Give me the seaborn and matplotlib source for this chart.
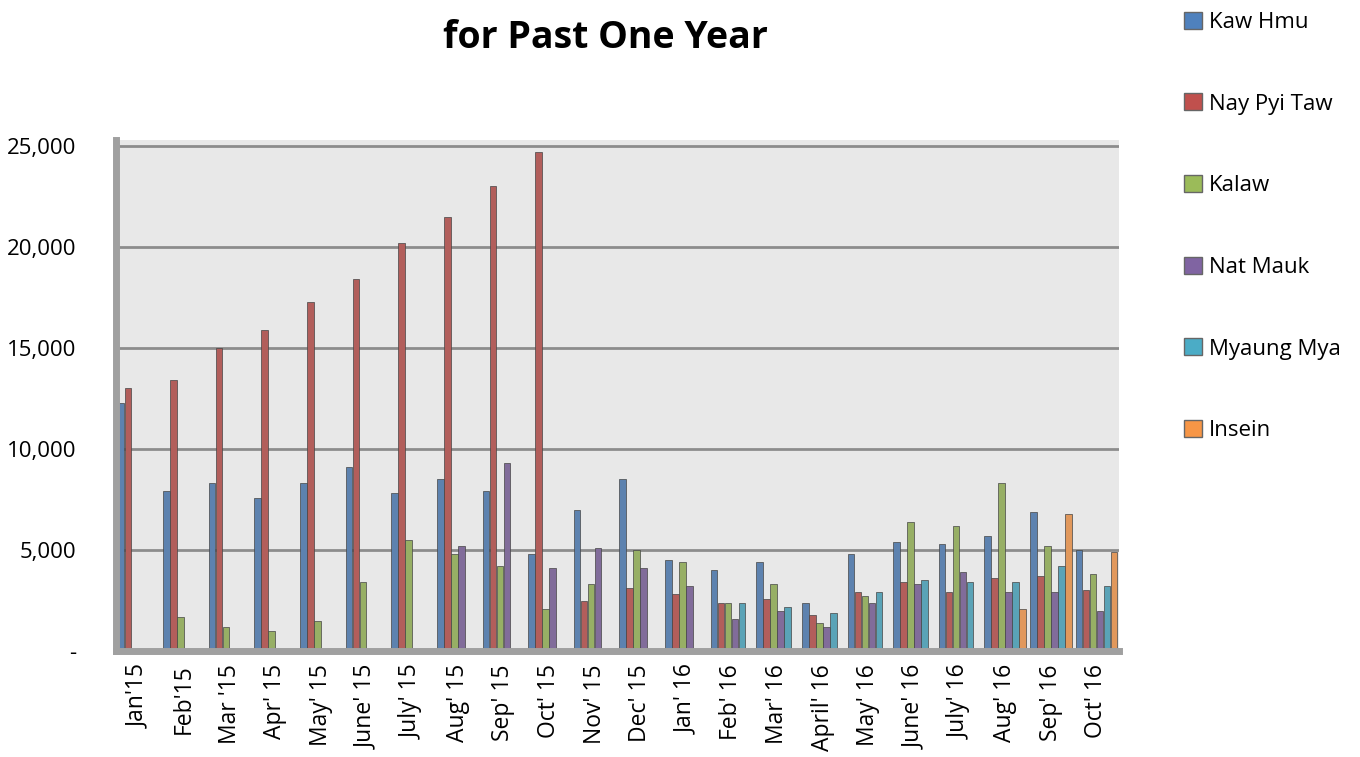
import matplotlib
matplotlib.use('Agg')
import matplotlib.pyplot as plt
import matplotlib.ticker as mticker
from matplotlib.patches import Patch
import numpy as np
import pandas as pd
import seaborn as sns

months = ["Jan'15", "Feb'15", "Mar '15", "Apr' 15", "May' 15", "June' 15", "July' 15",
          "Aug' 15", "Sep' 15", "Oct' 15", "Nov' 15", "Dec' 15", "Jan' 16", "Feb' 16",
          "Mar' 16", "April' 16", "May' 16", "June' 16", "July' 16", "Aug' 16",
          "Sep' 16", "Oct' 16"]
nan = np.nan
kaw_hmu = [12300, 7900, 8300, 7600, 8300, 9100, 7800, 8500, 7900, 4800, 7000, 8500,
           4500, 4000, 4400, 2400, 4800, 5400, 5300, 5700, 6900, 5000]
nay_pyi_taw = [13000, 13400, 15000, 15900, 17300, 18400, 20200, 21500, 23000, 24700,
               2500, 3100, 2800, 2400, 2600, 1800, 2900, 3400, 2900, 3600, 3700, 3000]
kalaw = [nan, 1700, 1200, 1000, 1500, 3400, 5500, 4800, 4200, 2100, 3300, 5000,
         4400, 2400, 3300, 1400, 2700, 6400, 6200, 8300, 5200, 3800]
nat_mauk = [nan, nan, nan, nan, nan, nan, nan, 5200, 9300, 4100, 5100, 4100,
            3200, 1600, 2000, 1200, 2400, 3300, 3900, 2900, 2900, 2000]
myaung_mya = [nan] * 13 + [2400, 2200, 1900, 2900, 3500, 3400, 3400, 4200, 3200]
insein = [nan] * 19 + [2100, 6800, 4900]

series = ["Kaw Hmu", "Nay Pyi Taw", "Kalaw", "Nat Mauk", "Myaung Mya", "Insein"]
colors = ["#4F81BD", "#C0504D", "#9BBB59", "#8064A2", "#4BACC6", "#F79646"]

rows = []
for name, vals in zip(series, [kaw_hmu, nay_pyi_taw, kalaw, nat_mauk, myaung_mya, insein]):
    for m, v in zip(months, vals):
        rows.append({"month": m, "series": name, "value": v})
df = pd.DataFrame(rows)

sns.set_style('whitegrid')
plt.rcParams['font.family'] = ['Open Sans', 'DejaVu Sans']
plt.rcParams['text.color'] = 'black'
plt.rcParams['xtick.color'] = 'black'
plt.rcParams['ytick.color'] = 'black'

fig = plt.figure(figsize=(13.6, 7.57), dpi=100)
ax = fig.add_axes([0.085, 0.14, 0.738, 0.675])
ax.set_facecolor('#e8e8e8')

sns.barplot(data=df, x='month', y='value', hue='series', order=months,
            hue_order=series, palette=colors, width=0.92, gap=0.05,
            edgecolor='#444444', linewidth=0.5, errorbar=None, ax=ax)

ax.set_ylim(0, 25300)
ax.yaxis.set_major_locator(mticker.MultipleLocator(5000))
ax.yaxis.set_major_formatter(mticker.FuncFormatter(
    lambda v, p: '-' if v == 0 else f'{int(v):,}'))
ax.grid(axis='y', color='#8c8c8c', linewidth=2)
ax.grid(axis='x', visible=False)
ax.set_axisbelow(True)
ax.set_xlabel('')
ax.set_ylabel('')
ax.tick_params(axis='x', labelrotation=90, labelsize=16.5, length=6, color='#888888')
ax.tick_params(axis='y', labelsize=16, pad=28, length=0)
for s in ['top', 'right']:
    ax.spines[s].set_visible(False)
ax.spines['left'].set_color('#a0a0a0')
ax.spines['left'].set_linewidth(5)
ax.spines['bottom'].set_color('#a0a0a0')
ax.spines['bottom'].set_linewidth(5)

ax.get_legend().remove()
handles = [Patch(facecolor=c, edgecolor='#666666', label=s) for s, c in zip(series, colors)]
fig.legend(handles=handles, loc='upper left', bbox_to_anchor=(0.856, 1.011),
           frameon=False, fontsize=16, labelspacing=2.72, handlelength=0.8,
           handleheight=0.8, handletextpad=0.3)

fig.text(0.445, 0.95, 'for Past One Year', ha='center', va='center',
         fontsize=27, fontweight='bold')

fig.savefig('out.png', dpi=100, facecolor='white')
